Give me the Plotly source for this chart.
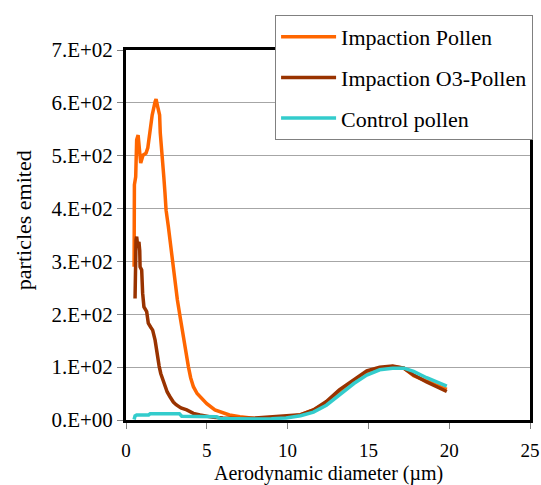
import plotly.graph_objects as go

# ---- data ----
pollen_x = [0.5, 0.52, 0.6, 0.66, 0.75, 0.82, 0.91, 1.05, 1.24, 1.35, 1.42, 1.53, 1.62, 1.8, 1.86,
            1.96, 2.08, 2.12, 2.21, 2.34, 2.41, 2.48, 2.62, 2.68, 2.8, 2.93, 3.05, 3.18, 3.35, 3.51,
            3.7, 3.86, 4.0, 4.17, 4.4, 4.58, 4.8, 5.0, 5.5, 6.0, 6.4, 7.05, 7.5, 8.0, 9.0, 10.0,
            10.8, 11.6, 12.4, 13.2, 14.0, 14.9, 15.7, 16.5, 17.2, 17.8, 18.6, 19.85]
pollen_y = [290, 445, 460, 530, 539, 510, 486, 501, 505, 515, 530, 552, 577, 602, 607,
            593, 577, 543, 498, 460, 430, 397, 366, 350, 320, 290, 258, 227, 195, 164,
            130, 101, 80, 63, 50, 44, 37, 31, 19, 13, 9.5, 6, 4, 3, 4, 6,
            9.5, 19, 33, 52, 70, 88, 97, 101, 98, 84, 74, 58]

o3_x = [0.56, 0.57, 0.62, 0.66, 0.72, 0.8, 0.85, 0.87, 0.97, 1.03, 1.11, 1.28, 1.38, 1.52, 1.65,
        1.8, 1.94, 2.05, 2.15, 2.3, 2.41, 2.55, 2.72, 2.93, 3.1, 3.4, 3.76, 4.17, 4.58, 5.0,
        5.4, 6.0, 7.0, 8.0, 9.0, 10.0, 10.8, 11.6, 12.4, 13.2, 14.1, 14.9, 15.7, 16.5, 17.2,
        17.8, 18.6, 19.85]
o3_y = [230, 328, 340, 347, 330, 337, 320, 290, 284, 240, 214, 205, 183, 176, 170,
        151, 120, 102, 88, 74, 63, 53, 44, 34, 29, 23, 19, 12.6, 9.5, 7,
        5, 4, 3, 4, 6, 7, 10, 19, 35, 57, 76, 93, 100, 102, 98,
        85, 72, 54]

control_x = [0.5, 0.56, 0.66, 1.0, 1.4, 1.5, 2.5, 3.3, 3.45, 4.5, 5.6, 5.8, 7, 8, 9, 9.9,
             10.8, 11.6, 12.4, 13.2, 14.1, 14.9, 15.7, 16.5, 17.2, 17.8, 18.6, 19.85]
control_y = [1, 7.6, 9.5, 9.5, 9.5, 12, 12, 12, 7, 7, 6, 3, 2, 2, 2.5, 4,
             8, 15, 28, 47, 69, 85, 95, 98, 98, 92, 80, 64]

series_names = ["Impaction Pollen", "Impaction O3-Pollen", "Control pollen"]
series_colors = ["#FF6600", "#993300", "#33CCCC"]

y_tickvals = [0, 100, 200, 300, 400, 500, 600, 700]
y_ticktext = ["0.E+00", "1.E+02", "2.E+02", "3.E+02", "4.E+02", "5.E+02", "6.E+02", "7.E+02"]
x_tickvals = [0, 5, 10, 15, 20, 25]

x_title = "Aerodynamic diameter (µm)"
y_title = "particles emited"

FONT = "Liberation Serif, Times New Roman, Times, serif"

fig = go.Figure()
for i, (xs, ys) in enumerate([(pollen_x, pollen_y), (o3_x, o3_y), (control_x, control_y)]):
    fig.add_trace(go.Scatter(
        x=xs, y=ys, mode="lines", name=series_names[i],
        legendgroup=f"g{i}",
        line=dict(color=series_colors[i], width=3.5),
    ))

fig.update_layout(
    width=541, height=485,
    margin=dict(l=126, r=11, t=50, b=65, autoexpand=False),
    paper_bgcolor="white", plot_bgcolor="white",
    font=dict(family=FONT, size=21, color="black"),
    showlegend=True,
    legend=dict(
        x=0.369, y=1.0946, xanchor="left", yanchor="top",
        bgcolor="white", bordercolor="#808080", borderwidth=1,
        font=dict(family=FONT, size=22, color="black"),
        tracegroupgap=9, itemwidth=55,
    ),
    xaxis=dict(
        range=[0, 25], tickvals=x_tickvals,
        showline=True, linecolor="black", linewidth=3, mirror=True,
        ticks="outside", ticklen=6, tickcolor="#808080", tickwidth=1,
        showgrid=False, zeroline=False,
        tickfont=dict(family=FONT, size=19),
        ticklabelstandoff=5,
    ),
    yaxis=dict(
        range=[0, 700], tickvals=y_tickvals, ticktext=y_ticktext,
        showline=True, linecolor="black", linewidth=3, mirror=True,
        ticks="outside", ticklen=6, tickcolor="#808080", tickwidth=1,
        showgrid=True, gridcolor="#A6A6A6", gridwidth=1, zeroline=False,
        tickfont=dict(family=FONT, size=21),
    ),
    annotations=[
        dict(
            text=y_title, textangle=-90,
            xref="paper", yref="paper", x=-0.255, y=0.54,
            xanchor="center", yanchor="middle", showarrow=False,
            font=dict(family=FONT, size=22),
        ),
        dict(
            text=x_title,
            xref="paper", yref="paper", x=0.5, y=-0.145,
            xanchor="center", yanchor="middle", showarrow=False,
            font=dict(family=FONT, size=20),
        ),
    ],
)

fig.write_html("out.html", config={"displayModeBar": False},
               post_script="document.body.style.margin='0';")
